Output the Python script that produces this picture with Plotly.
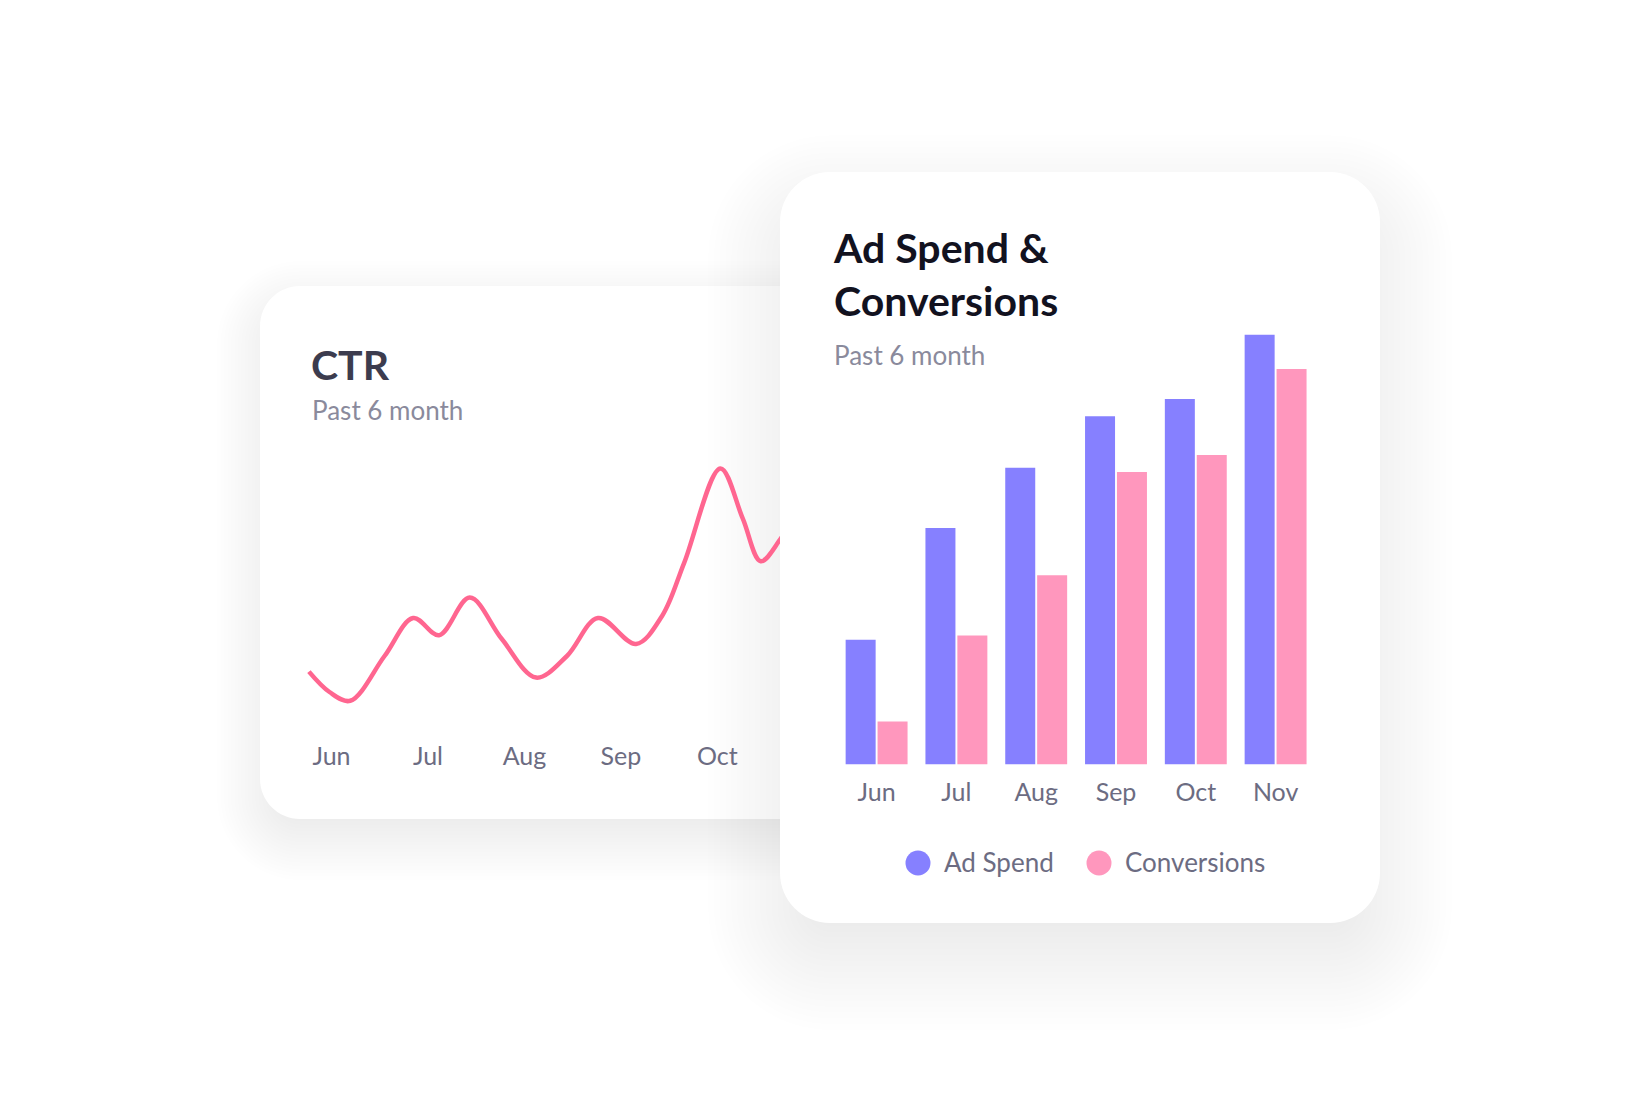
import plotly.graph_objects as go

W, H = 1640, 1094
DX, DY = -8, -8   # global nudge after comparing with the reference

# CTR curve: x in months counted from Jun, y in %
ctr_x = [-0.234, -0.021, 0.194, 0.550, 0.847, 1.114, 1.433, 1.764, 2.121, 2.441,
         2.763, 3.157, 3.427, 3.656, 4.032, 4.263, 4.449, 4.650, 4.857]
ctr_y = [2.21, 1.70, 1.48, 2.60, 3.55, 3.12, 4.06, 3.03, 2.06, 2.60,
         3.55, 2.90, 3.60, 4.93, 7.29, 6.04, 4.97, 5.51, 6.38]
ctr_ticks = [0, 1, 2, 3, 4]
ctr_labels = ["Jun", "Jul", "Aug", "Sep", "Oct"]

# Ad spend & conversions (relative units, Nov ad spend = 100)
months = ["Jun", "Jul", "Aug", "Sep", "Oct", "Nov"]
ad_spend = [29, 55, 69, 81, 85, 100]
conversions = [10, 30, 44, 68, 72, 92]

FONT = "Lato"
PURPLE = "#8680ff"
PINK = "#ff97bd"
LINE_PINK = "#ff6690"
TICK_GREY = "#6c6c82"
SUB_GREY = "#8a8a9c"


def px(x):
    return (x + DX) / W


def py(y):
    return 1 - (y + DY) / H


def rounded_rect(x0, y0, x1, y1, r):
    # pixel coords in, paper-coords svg path out (bezier corners)
    k = 0.5523 * r

    def p(x, y):
        return f"{px(x):.5f},{py(y):.5f}"

    return (f"M {p(x0 + r, y0)} L {p(x1 - r, y0)} "
            f"C {p(x1 - r + k, y0)} {p(x1, y0 + r - k)} {p(x1, y0 + r)} "
            f"L {p(x1, y1 - r)} "
            f"C {p(x1, y1 - r + k)} {p(x1 - r + k, y1)} {p(x1 - r, y1)} "
            f"L {p(x0 + r, y1)} "
            f"C {p(x0 + r - k, y1)} {p(x0, y1 - r + k)} {p(x0, y1 - r)} "
            f"L {p(x0, y0 + r)} "
            f"C {p(x0, y0 + r - k)} {p(x0 + r - k, y0)} {p(x0 + r, y0)} Z")


def card(box, r, dy, blur, alpha, n=26):
    x0, y0, x1, y1 = box
    out = []
    for i in range(n):
        g = -blur / 2 + blur * (i + 0.5) / n
        out.append(dict(type="path", xref="paper", yref="paper", layer="below",
                        path=rounded_rect(x0 - g, y0 - g + dy, x1 + g, y1 + g + dy, max(r + g, 2)),
                        fillcolor=f"rgba(40,40,70,{alpha / n:.5f})", line=dict(width=0)))
    out.append(dict(type="path", xref="paper", yref="paper", layer="below",
                    path=rounded_rect(x0, y0, x1, y1, r),
                    fillcolor="white", line=dict(width=0)))
    return out


shapes = []
shapes += card((260, 286, 1000, 819), 40, 18, 90, 0.07)
shapes += card((780, 172, 1380, 923), 50, 35, 150, 0.12)

fig = go.Figure()

fig.add_trace(go.Scatter(x=ctr_x, y=ctr_y, mode="lines", xaxis="x", yaxis="y",
                         line=dict(color=LINE_PINK, width=4.5, shape="spline"),
                         showlegend=False, hoverinfo="skip"))
fig.add_trace(go.Bar(x=months, y=ad_spend, name="Ad Spend", xaxis="x2", yaxis="y2",
                     marker=dict(color=PURPLE, line=dict(width=0)), showlegend=False))
fig.add_trace(go.Bar(x=months, y=conversions, name="Conversions", xaxis="x2", yaxis="y2",
                     marker=dict(color=PINK, line=dict(width=0)), showlegend=False))

# CTR axes: month m sits at 331.5 + 96.46*m px
m0, step = 331.5, 96.46
cx0, cx1 = 290, 780
fig.update_layout(
    xaxis=dict(domain=[px(cx0), px(cx1)], range=[(cx0 - m0) / step, (cx1 - m0) / step],
               tickvals=ctr_ticks, ticktext=ctr_labels, showgrid=False, zeroline=False,
               showline=False, ticks="", ticklabelstandoff=19,
               tickfont=dict(family=FONT, size=25, color=TICK_GREY), fixedrange=True),
    yaxis=dict(domain=[py(720), py(440)], range=[1.0, 8.0], visible=False, fixedrange=True),
    xaxis2=dict(domain=[px(836.7), px(1315.5)], anchor="y2", showgrid=False, zeroline=False,
                showline=False, ticks="", ticklabelstandoff=10,
                tickfont=dict(family=FONT, size=25, color=TICK_GREY), fixedrange=True),
    yaxis2=dict(domain=[py(764.5), py(334.5)], range=[0, 100], anchor="x2", visible=False,
                fixedrange=True),
)

annotations = [
    dict(text="CTR", x=px(309), y=py(364), xanchor="left", yanchor="middle",
         font=dict(family=FONT, size=41, weight=700, color="#3c3c4e")),
    dict(text="Past 6 month", x=px(310), y=py(410), xanchor="left", yanchor="middle",
         font=dict(family=FONT, size=26, color=SUB_GREY)),
    dict(text="Ad Spend &<br>Conversions", x=px(831), y=py(274), xanchor="left",
         yanchor="middle", align="left",
         font=dict(family=FONT, size=41, weight=700, color="#12121f")),
    dict(text="Past 6 month", x=px(832), y=py(355), xanchor="left", yanchor="middle",
         font=dict(family=FONT, size=26, color=SUB_GREY)),
    dict(text="Ad Spend", x=px(942), y=py(862), xanchor="left", yanchor="middle",
         font=dict(family=FONT, size=26, color=TICK_GREY)),
    dict(text="Conversions", x=px(1123), y=py(862), xanchor="left", yanchor="middle",
         font=dict(family=FONT, size=26, color=TICK_GREY)),
]
for a in annotations:
    a.update(xref="paper", yref="paper", showarrow=False)

# legend dots
for cxp, col in [(918, PURPLE), (1099, PINK)]:
    shapes.append(dict(type="circle", xref="paper", yref="paper", layer="above",
                       x0=px(cxp - 12.5), x1=px(cxp + 12.5), y0=py(863 + 12.5), y1=py(863 - 12.5),
                       fillcolor=col, line=dict(width=0)))

fig.update_layout(
    width=W, height=H, margin=dict(l=0, r=0, t=0, b=0),
    paper_bgcolor="white", plot_bgcolor="rgba(0,0,0,0)",
    barmode="group", bargap=0.2, bargroupgap=0.06,
    shapes=shapes, annotations=annotations, showlegend=False,
    font=dict(family=FONT),
)

fig.write_html("out.html", config={"displayModeBar": False})
